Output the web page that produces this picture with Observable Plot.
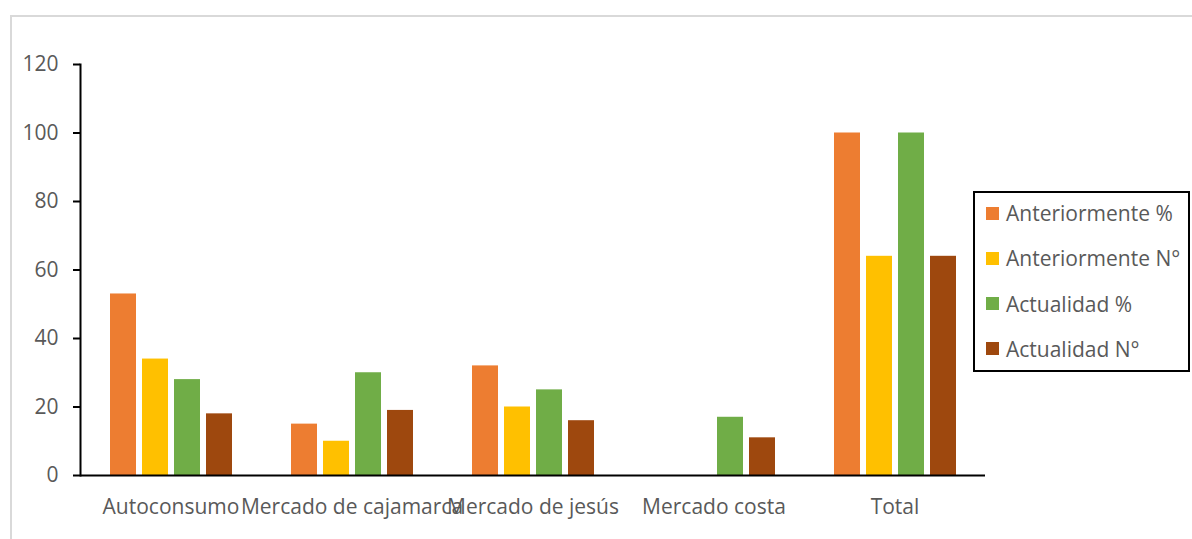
<!DOCTYPE html>
<html>
<head>
<meta charset="utf-8">
<script src="https://cdn.jsdelivr.net/npm/d3@7"></script>
<script src="https://cdn.jsdelivr.net/npm/@observablehq/plot@0.6"></script>
<style>
  html, body { margin: 0; padding: 0; background: #fff; }
  #wrap { position: relative; width: 1192px; height: 539px; overflow: hidden; font-family: "Open Sans", sans-serif; }
  #border { position: absolute; left: 10px; top: 15px; right: -10px; bottom: -10px; border-top: 2px solid #d9d9d9; border-left: 2px solid #d9d9d9; }
  #chart { position: absolute; left: 0; top: 0; }
  #legend { position: absolute; left: 973px; top: 191px; width: 213px; height: 177px; border: 2px solid #000; background: #fff; }
  .item { position: absolute; left: 11px; height: 24px; display: flex; align-items: center; font-size: 21px; color: #595959; white-space: nowrap; }
  .sw { width: 13px; height: 13px; margin-right: 7px; flex: none; }
</style>
</head>
<body>
<div id="wrap">
  <div id="border"></div>
  <div id="chart"></div>
  <div id="legend"></div>
</div>
<script>
const categories = ["Autoconsumo", "Mercado de cajamarca", "Mercado de jesús", "Mercado costa", "Total"];
const seriesNames = ["Anteriormente %", "Anteriormente N°", "Actualidad %", "Actualidad N°"];
const anteriorPct = [53, 15, 32, 0, 100];
const anteriorN = [34, 10, 20, 0, 64];
const actualPct = [28, 30, 25, 17, 100];
const actualN = [18, 19, 16, 11, 64];
const yTicks = [0, 20, 40, 60, 80, 100, 120];
const colors = ["#ED7D31", "#FFC000", "#70AD47", "#9E480E"];

const seriesValues = [anteriorPct, anteriorN, actualPct, actualN];
const data = [];
categories.forEach((c, i) => {
  seriesNames.forEach((s, j) => {
    data.push({category: c, series: s, value: seriesValues[j][i]});
  });
});

const chart = Plot.plot({
  width: 1192,
  height: 539,
  marginLeft: 80,
  marginRight: 207,
  marginTop: 64,
  marginBottom: 64,
  style: {fontFamily: "Open Sans", fontSize: "21px", background: "transparent"},
  fx: {domain: categories, padding: 0, label: null},
  x: {domain: seriesNames, paddingInner: 0.2, paddingOuter: 0.87, axis: null},
  y: {domain: [0, 120], axis: null},
  color: {domain: seriesNames, range: colors},
  marks: [
    Plot.barY(data, {fx: "category", x: "series", y: "value", fill: "series"}),
    Plot.ruleY([0], {stroke: "black", strokeWidth: 2}),
    Plot.axisY({ticks: yTicks, tickSize: 7, tickPadding: 15, stroke: "black", strokeWidth: 2, fill: "#595959", label: null, fontSize: 21}),
    Plot.axisFx({anchor: "bottom", tickSize: 0, tickPadding: 24, label: null, fill: "#595959", fontSize: 21}),
    Plot.frame({anchor: "left", facetAnchor: "left", stroke: "black", strokeWidth: 2})
  ]
});
document.getElementById("chart").appendChild(chart);

const legend = document.getElementById("legend");
seriesNames.forEach((s, j) => {
  const item = document.createElement("div");
  item.className = "item";
  item.style.top = (8 + j * 45.3) + "px";
  const sw = document.createElement("span");
  sw.className = "sw";
  sw.style.background = colors[j];
  const t = document.createElement("span");
  t.textContent = s;
  item.appendChild(sw);
  item.appendChild(t);
  legend.appendChild(item);
});
</script>
</body>
</html>
